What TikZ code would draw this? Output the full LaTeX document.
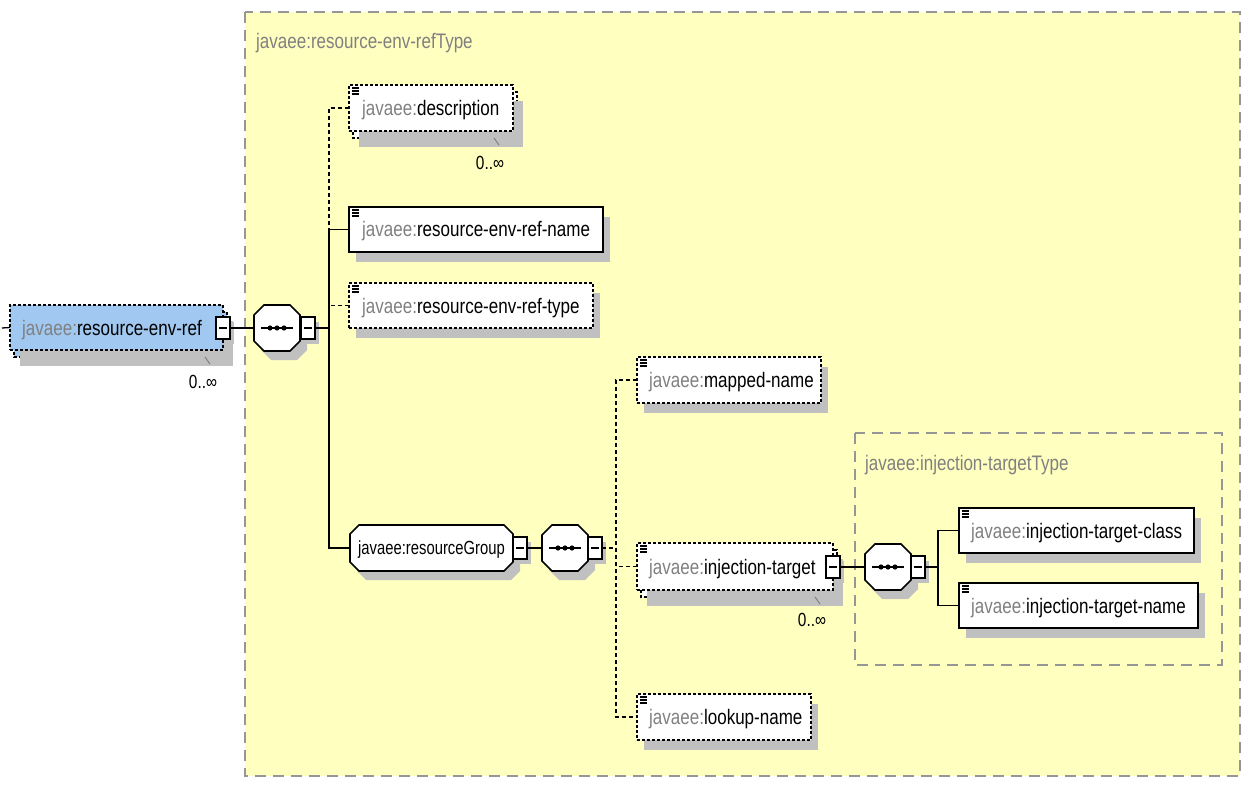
\documentclass[tikz,border=0pt]{standalone}
\usepackage{fontspec}
\setmainfont{Liberation Sans}[FakeStretch=0.81]
\newfontfamily\grpfont{Liberation Sans}[FakeStretch=0.78]
\usetikzlibrary{calc}
\definecolor{ylw}{RGB}{255,255,192}
\definecolor{blu}{RGB}{160,200,240}
\definecolor{shdc}{RGB}{192,192,192}
\definecolor{bdr}{RGB}{150,150,150}
\definecolor{prec}{RGB}{128,128,128}
\pgfdeclarelayer{bg}\pgfdeclarelayer{shade}
\pgfsetlayers{bg,shade,main}
\tikzset{
 box/.style={draw=black, fill=white, line width=1.6pt, inner sep=0pt, outer sep=0pt},
 optbox/.style={box, dash pattern=on 3pt off 2pt},
 conn/.style={draw=black, line width=1.3pt},
 dconn/.style={conn, dash pattern=on 4pt off 3pt},
 txt/.style={anchor=base west, inner sep=0pt, font=\fontsize{21}{24}\selectfont},
 ttl/.style={anchor=west, inner sep=0pt, text=prec, font=\fontsize{21}{24}\selectfont},
 occ/.style={inner sep=0pt, font=\fontsize{19}{22}\selectfont},
 frame/.style={draw=bdr, line width=1.8pt, dash pattern=on 11pt off 7pt},
}
\newcommand\pre[1]{\textcolor{prec}{#1}}
\newcommand\mkbox[6]{\node[#1, minimum width={#5-#3}, minimum height={#6-#4}] (#2) at ({(#3+#5)/2},{(#4+#6)/2}) {};}
\newcommand\mkshadow[3]{\begin{pgfonlayer}{shade}\fill[shdc] ([shift={(#2,#3)}]#1.north west) rectangle ([shift={(#2,#3)}]#1.south east);\end{pgfonlayer}}
\newcommand\mkback[2]{\begin{pgfonlayer}{shade}\path[optbox, fill=#2] ([shift={(4,7)}]#1.north west) rectangle ([shift={(4,7)}]#1.south east);\end{pgfonlayer}}
\newcommand\mkicon[1]{\foreach \k in {0,3,6} \draw[line width=1.1pt] ([shift={(3,3+\k)}]#1.north west) -- ++(7,0);}
\newcommand\octpath[5]{(#1-#3+#5,#2-#4) -- (#1+#3-#5,#2-#4) -- (#1+#3,#2-#4+#5) -- (#1+#3,#2+#4-#5) -- (#1+#3-#5,#2+#4) -- (#1-#3+#5,#2+#4) -- (#1-#3,#2+#4-#5) -- (#1-#3,#2-#4+#5) -- cycle}
\newcommand\mkoct[6]{%
 \node[minimum width={2*#4}, minimum height={2*#5}, inner sep=0pt, outer sep=0pt] (#1) at (#2,#3) {};
 \begin{pgfonlayer}{shade}\fill[shdc] \octpath{#2+7}{#3+9}{#4}{#5}{#6};\end{pgfonlayer}
 \draw[box] \octpath{#2}{#3}{#4}{#5}{#6};}
\newcommand\mkseq[3]{%
 \mkoct{#1}{#2}{#3}{23}{23}{10}
 \draw[line width=1.3pt] (#2-16,#3) -- (#2+16,#3);
 \foreach \d in {-7,0,7} \fill (#2+\d,#3) circle[radius=2.6pt];}
\newcommand\mkminus[3]{%
 \node[box, minimum width=14pt, minimum height=22pt] (#1) at (#2,#3) {};
 \mkshadow{#1}{4}{5}
 \draw[line width=1.2pt] ([xshift=3pt]#1.west) -- ([xshift=-3pt]#1.east);}
\begin{document}
\begin{tikzpicture}[x=1pt,y=-1pt]
\useasboundingbox (0,0) rectangle (1244,786);
\begin{pgfonlayer}{bg}
 \fill[white] (0,0) rectangle (1244,786);
 \fill[ylw] (245,12) rectangle (1240,776);
 \draw[frame] (245,12) rectangle (1240,776);
 \draw[frame] (855,433) rectangle (1222,665);
\end{pgfonlayer}
\node[ttl] (t1) at (256,43) {javaee:resource-env-refType};
\node[ttl] (t2) at (865,465) {javaee:injection-targetType};

% root
\mkbox{optbox, fill=blu}{root}{10}{305}{223}{350}
\mkback{root}{blu}\mkshadow{root}{10}{16}
\node[txt] (roott) at (22,335) {\pre{javaee:}resource-env-ref};
\mkminus{rootm}{223}{328}
\draw[prec, line width=1pt] (205,357) -- (210,364);
\node[occ] (rooto) at (203,382) {0..∞};
\coordinate (stub) at (2,328);
\draw[conn] (stub) -- (root.west);

% seq1
\mkseq{seqa}{277}{328}
\mkminus{seqam}{308}{328}
\draw[conn] (rootm.east) -- (seqa.west);
\coordinate (ja) at (329,548);

% description
\mkbox{optbox}{desc}{349}{85}{513}{131}
\mkback{desc}{white}\mkshadow{desc}{10}{16}
\mkicon{desc}
\node[txt] at (362,116) {\pre{javaee:}description};
\draw[prec, line width=1pt] (494,138) -- (499,145);
\node[occ] (desco) at (490,163) {0..∞};

% ref-name
\mkbox{box}{rname}{349}{207}{603}{252}
\mkshadow{rname}{7}{10}\mkicon{rname}
\node[txt] at (362,237) {\pre{javaee:}resource-env-ref-name};

% ref-type
\mkbox{optbox}{rtype}{349}{283}{593}{328}
\mkshadow{rtype}{7}{10}\mkicon{rtype}
\node[txt] at (362,313) {\pre{javaee:}resource-env-ref-type};

% group
\node[minimum width=163pt, minimum height=46pt, inner sep=0pt, outer sep=0pt] (grp) at (431.5,548) {};
\begin{pgfonlayer}{shade}\fill[shdc] \octpath{438.5}{557}{81.5}{23}{9};\end{pgfonlayer}
\draw[box] \octpath{431.5}{548}{81.5}{23}{9};
\node[txt, font=\grpfont\fontsize{19}{22}\selectfont] at (358,554) {javaee:resourceGroup};
\mkminus{grpm}{520}{548}

% bus 1
\draw[dconn] (desc.west) -| (rname.west -| ja);
\draw[conn] (rname.west) -| (ja) -- (grp.west);
\draw[dconn] (rtype.west) -- (rtype.west -| ja);
\draw[conn] (seqam.east) -- (seqam.east -| ja);

% seq2
\draw[conn] (grpm.east) -- (565-23,548);
\mkseq{seqb}{565}{548}
\mkminus{seqbm}{595}{548}
\coordinate (jb) at (616,717);

% mapped-name
\mkbox{optbox}{mapped}{637}{357}{821}{403}
\mkshadow{mapped}{7}{10}\mkicon{mapped}
\node[txt] at (649,387) {\pre{javaee:}mapped-name};

% injection-target
\mkbox{optbox}{inj}{637}{543}{833}{590}
\mkback{inj}{white}\mkshadow{inj}{10}{16}
\mkicon{inj}
\node[txt] at (649,574) {\pre{javaee:}injection-target};
\mkminus{injm}{833}{567}
\draw[prec, line width=1pt] (815,597) -- (820,604);
\node[occ] (injo) at (812,620) {0..∞};

% lookup-name
\mkbox{optbox}{lookup}{637}{694}{811}{740}
\mkshadow{lookup}{7}{10}\mkicon{lookup}
\node[txt] at (649,724) {\pre{javaee:}lookup-name};

% bus 2
\draw[dconn] (mapped.west) -| (jb) -- (lookup.west);
\draw[dconn] (inj.west) -- (inj.west -| jb);
\draw[dconn] (seqbm.east) -- (seqbm.east -| jb);

% seq3
\mkseq{seqc}{888}{567}
\mkminus{seqcm}{918}{567}
\draw[conn] (injm.east) -- (seqc.west);
\coordinate (jc) at (938,605.5);

\mkbox{box}{cls}{959}{508}{1194}{553}
\mkshadow{cls}{7}{10}\mkicon{cls}
\node[txt] at (971,538) {\pre{javaee:}injection-target-class};

\mkbox{box}{tname}{959}{583}{1198}{628}
\mkshadow{tname}{7}{10}\mkicon{tname}
\node[txt] at (971,613) {\pre{javaee:}injection-target-name};

\draw[conn] (cls.west) -| (jc) -- (tname.west);
\draw[conn] (seqcm.east) -- (seqcm.east -| jc);
\end{tikzpicture}
\end{document}
